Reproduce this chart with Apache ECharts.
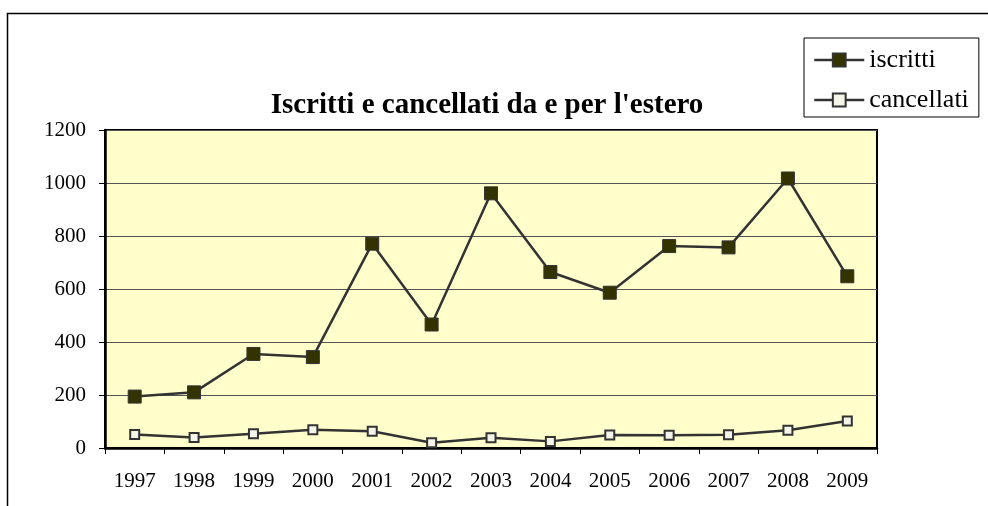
<!DOCTYPE html>
<html>
<head>
<meta charset="utf-8">
<script src="https://cdn.jsdelivr.net/npm/echarts@6/dist/echarts.min.js"></script>
<style>
  html, body { margin: 0; padding: 0; background: #fff; }
  #chart { width: 988px; height: 506px; }
</style>
</head>
<body>
<div id="chart"></div>
<script>
// data
const years = ['1997', '1998', '1999', '2000', '2001', '2002', '2003', '2004', '2005', '2006', '2007', '2008', '2009'];
const iscritti = [194, 210, 355, 343, 771, 466, 961, 664, 586, 762, 757, 1017, 648];
const cancellati = [51, 40, 54, 69, 63, 20, 39, 25, 49, 48, 50, 67, 102];

const serif = '"Liberation Serif", "DejaVu Serif", serif';

const chart = echarts.init(document.getElementById('chart'));

const option = {
    animation: false,
    backgroundColor: '#fff',
    title: {
        text: "Iscritti e cancellati da e per l'estero",
        left: 482,
        top: 86,
        textAlign: 'center',
        textStyle: { fontFamily: serif, fontSize: 29, fontWeight: 'bold', color: '#000' }
    },
    legend: {
        orient: 'vertical',
        left: 804,
        top: 38,
        backgroundColor: '#fff',
        borderColor: '#000',
        borderWidth: 1,
        padding: [9, 10, 4, 9],
        itemGap: 14,
        itemWidth: 50,
        itemHeight: 16,
        lineStyle: { color: '#333', width: 2.5 },
        textStyle: { fontFamily: serif, fontSize: 26, color: '#000' },
        data: ['iscritti', 'cancellati']
    },
    // outer frame of the chart area
    graphic: [{
        type: 'rect',
        shape: { x: 7.5, y: 13.5, width: 1000, height: 600 },
        style: { fill: 'none', stroke: '#000', lineWidth: 1.5 },
        silent: true,
        z: -1
    }],
    grid: {
        left: 105,
        right: 111,
        top: 130,
        bottom: 58,
        show: true,
        backgroundColor: '#FFFFCC',
        borderColor: '#000',
        borderWidth: 2
    },
    xAxis: {
        type: 'category',
        data: years,
        boundaryGap: true,
        axisLine: { lineStyle: { color: '#000', width: 2.5 } },
        axisTick: { show: true, length: 6, lineStyle: { color: '#000', width: 1 } },
        axisLabel: { fontFamily: serif, fontSize: 21, color: '#000', margin: 23 }
    },
    yAxis: {
        type: 'value',
        min: 0,
        max: 1200,
        interval: 200,
        axisLine: { show: true, lineStyle: { color: '#000', width: 2.5 } },
        axisTick: { show: true, length: 6, lineStyle: { color: '#000', width: 1 } },
        axisLabel: {
            fontFamily: serif, fontSize: 21, color: '#000', margin: 19,
            formatter: function (v) { return String(v); }
        },
        splitLine: { lineStyle: { color: '#555', width: 1 } }
    },
    series: [
        {
            name: 'iscritti',
            type: 'line',
            data: iscritti,
            symbol: 'rect',
            symbolSize: 13,
            lineStyle: { color: '#333', width: 2.5 },
            itemStyle: { color: '#333300', borderColor: '#333', borderWidth: 1 }
        },
        {
            name: 'cancellati',
            type: 'line',
            data: cancellati,
            symbol: 'rect',
            symbolSize: 9,
            lineStyle: { color: '#333', width: 2.5 },
            itemStyle: { color: '#f4f4e8', borderColor: '#333', borderWidth: 2 }
        }
    ]
};

chart.setOption(option);
</script>
</body>
</html>
